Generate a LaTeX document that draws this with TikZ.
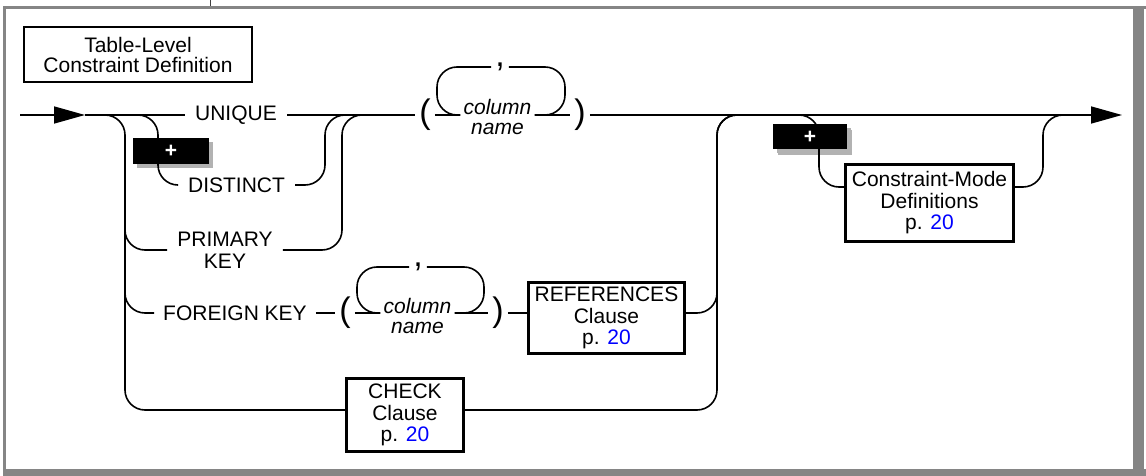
\documentclass[tikz,border=0pt]{standalone}
\usepackage{fontspec}
\setmainfont{Liberation Sans}
\usepackage{xcolor}
\usetikzlibrary{arrows.meta}
\usetikzlibrary{shadows}
\usetikzlibrary{calc}

\definecolor{frameGray}{HTML}{858585}

\begin{document}
\begin{tikzpicture}[x=1pt, y=1pt]
    \newcommand{\cornerradius}[0]{20pt}
    \newcommand{\boxborder}[0]{3pt}
    \newcommand{\colskip}[0]{20pt}

    \tikzstyle{rail} = [
      line width=1.6pt,
      draw=black,
      rounded corners=\cornerradius,
    ]
    \tikzstyle{railarrow} = [
      rail,
      -{Triangle[length=31pt, width=17pt]},
    ]
    \tikzstyle{keyword} = [
      anchor=center,
      align=center,
      inner xsep=10pt,
      inner ysep=0pt,
      font=\fontsize{21}{22}\selectfont,
    ]
    \tikzstyle{colname} = [
      anchor=base,
      align=center,
      inner xsep=3pt,
      inner ysep=0pt,
      font=\fontsize{21}{20}\selectfont\itshape,
    ]
    \tikzstyle{paren} = [
      anchor=center,
      inner xsep=4pt,
      inner ysep=0pt,
      font=\fontsize{34}{34}\selectfont,
    ]
    \tikzstyle{separator} = [
      anchor=center,
      inner xsep=4pt,
      inner ysep=0pt,
      font=\fontsize{34}{34}\selectfont,
    ]
    \tikzstyle{clause} = [
      anchor=center,
      align=center,
      draw=black,
      line width=\boxborder,
      inner sep=0pt,
      font=\fontsize{21}{21.5}\selectfont,
    ]
    \tikzstyle{title} = [
      anchor=center,
      align=center,
      draw=black,
      line width=2pt,
      minimum width=228pt,
      minimum height=55pt,
      font=\fontsize{21}{20}\selectfont,
    ]
    \tikzstyle{plusbadge} = [
      anchor=center,
      fill=black,
      text=white,
      inner sep=0pt,
      minimum width=76pt,
      minimum height=26pt,
      font=\fontsize{21}{21}\selectfont\bfseries,
      drop shadow={shadow xshift=4pt, shadow yshift=-4pt, fill=black!30, opacity=1},
    ]

    \useasboundingbox (0,0) rectangle (1146,-476);

    % page frame
    {
      \fill[frameGray] (3,-6) rectangle (1146,-9);
      \fill[frameGray] (3,-6) rectangle (6,-476);
      \fill[frameGray] (1133,-6) rectangle (1144,-476);
      \fill[frameGray] (3,-469) rectangle (1146,-476);
      \draw[line width=1pt, draw=black!75] (210,0) -- (210,-6);
    }

    \coordinate (railAnchor) at (0,-115);
    \coordinate (railStart)  at ([xshift=20pt] railAnchor);
    \coordinate (railTip)    at ([xshift=85pt] railAnchor);
    \coordinate (railEnd)    at ([xshift=1122pt] railAnchor);

    % title
    {
      \node[title] (diagramTitle) at (138,-54.5) {Table-Level\\Constraint Definition};
    }

    % main rail
    {
      \node[keyword] (unique) at ([xshift=236pt] railAnchor) {UNIQUE};
      \node[paren] (lparOne) at ([xshift=425pt] railAnchor) {(};
      \node[colname] (colOne) at ([xshift=497.5pt, yshift=-\colskip] railAnchor) {column\\name};
      \node[separator] (commaOne) at ([xshift=500pt, yshift=48pt] railAnchor) {,};
      \node[paren] (rparOne) at ([xshift=580pt] railAnchor) {)};

      \draw[railarrow] (railStart) -- (railTip);
      \draw[rail] (railTip) -- (unique.west);
      \draw[rail] (unique.east) -- (lparOne.west);
      \draw[rail] (lparOne.east) -- ([yshift=\colskip] colOne.base west);
      \draw[rail] ([yshift=\colskip] colOne.base east) -- (rparOne.west);
      \draw[railarrow] (rparOne.east) -- (railEnd);

      \coordinate (loopOneNW) at ([xshift=437pt, yshift=48pt] railAnchor);
      \coordinate (loopOneNE) at ([xshift=565pt, yshift=48pt] railAnchor);
      \draw[rail] ([yshift=\colskip] colOne.base west) -| (loopOneNW) -- (commaOne.west);
      \draw[rail] ([yshift=\colskip] colOne.base east) -| (loopOneNE) -- (commaOne.east);
    }

    % distinct
    {
      \node[keyword] (distinct) at ([xshift=236.5pt, yshift=-70pt] railAnchor) {DISTINCT};
      \node[plusbadge] (plusOne) at ([xshift=171pt, yshift=-36pt] railAnchor) {+};

      \coordinate (distSplit) at ([xshift=137pt] railAnchor);
      \coordinate (distBusL)  at ([xshift=158pt] railAnchor);
      \coordinate (distBusR)  at ([xshift=325pt] railAnchor);
      \coordinate (distJoin)  at ([xshift=347pt] railAnchor);
      \draw[rail] (distSplit) -- (distBusL) |- (distinct.west);
      \draw[rail] (distinct.east) -| (distBusR) -- (distJoin);
    }

    % left bus
    {
      \coordinate (outerSplit) at ([xshift=100pt] railAnchor);
      \coordinate (leftBus)    at ([xshift=125pt] railAnchor);
      \coordinate (leftBusLow) at ([xshift=125pt, yshift=-45pt] railAnchor);
    }

    % primary key
    {
      \node[keyword] (primary) at ([xshift=225pt, yshift=-135pt] railAnchor) {PRIMARY\\KEY};

      \coordinate (primBusR) at ([xshift=342pt] railAnchor);
      \coordinate (primJoin) at ([xshift=365pt] railAnchor);
      \draw[rail] (leftBusLow) |- (primary.west);
      \draw[rail] (primary.east) -| (primBusR) -- (primJoin);
    }

    % foreign key
    {
      \node[keyword, inner xsep=9pt] (foreign) at ([xshift=235pt, yshift=-198pt] railAnchor) {FOREIGN KEY};
      \node[paren] (lparTwo) at ([xshift=345pt, yshift=-198pt] railAnchor) {(};
      \node[colname] (colTwo) at ([xshift=417.5pt, yshift=-198pt-\colskip] railAnchor) {column\\name};
      \node[separator] (commaTwo) at ([xshift=418pt, yshift=-152pt] railAnchor) {,};
      \node[paren] (rparTwo) at ([xshift=498pt, yshift=-198pt] railAnchor) {)};
      \node[clause, minimum width=156pt, minimum height=71pt] (references) at ([xshift=606.5pt, yshift=-203pt] railAnchor) {REFERENCES\\Clause\\p. \textcolor{blue}{20}};

      \draw[rail] (leftBusLow) |- (foreign.west);
      \draw[rail] (foreign.east) -- (lparTwo.west);
      \draw[rail] (lparTwo.east) -- ([yshift=\colskip] colTwo.base west);
      \draw[rail] ([yshift=\colskip] colTwo.base east) -- (rparTwo.west);
      \draw[rail] (rparTwo.east) -- ([yshift=5pt] references.west);

      \coordinate (loopTwoNW) at ([xshift=357pt, yshift=-152pt] railAnchor);
      \coordinate (loopTwoNE) at ([xshift=484pt, yshift=-152pt] railAnchor);
      \draw[rail] ([yshift=\colskip] colTwo.base west) -| (loopTwoNW) -- (commaTwo.west);
      \draw[rail] ([yshift=\colskip] colTwo.base east) -| (loopTwoNE) -- (commaTwo.east);
    }

    % check
    {
      \node[clause, minimum width=117pt, minimum height=73pt] (check) at ([xshift=405pt, yshift=-300pt] railAnchor) {CHECK\\Clause\\p. \textcolor{blue}{20}};

      \draw[rail] (outerSplit) -- (leftBus) |- ([yshift=5pt] check.west);
    }

    % right bus
    {
      \coordinate (rightBus)  at ([xshift=717pt] railAnchor);
      \coordinate (rightJoin) at ([xshift=740pt] railAnchor);
      \draw[rail] ([yshift=5pt] references.east) -| (rightBus) -- (rightJoin);
      \draw[rail] ([yshift=5pt] check.east) -| (rightBus) -- (rightJoin);
    }

    % constraint mode
    {
      \node[clause, minimum width=168pt, minimum height=77pt] (modes) at ([xshift=929.5pt, yshift=-88pt] railAnchor) {Constraint-Mode\\Definitions\\p. \textcolor{blue}{20}};
      \node[plusbadge, minimum width=74pt, minimum height=25pt, drop shadow={shadow xshift=5pt, shadow yshift=-6pt, fill=black!30, opacity=1}] (plusTwo) at ([xshift=810pt, yshift=-22pt] railAnchor) {+};

      \coordinate (modeSplit) at ([xshift=797pt] railAnchor);
      \coordinate (modeBusL)  at ([xshift=819pt] railAnchor);
      \coordinate (modeBusR)  at ([xshift=1043pt] railAnchor);
      \coordinate (modeJoin)  at ([xshift=1068pt] railAnchor);
      \draw[rail] (modeSplit) -- (modeBusL) |- ([yshift=16pt] modes.west);
      \draw[rail] ([yshift=16pt] modes.east) -| (modeBusR) -- (modeJoin);
    }
\end{tikzpicture}
\end{document}
